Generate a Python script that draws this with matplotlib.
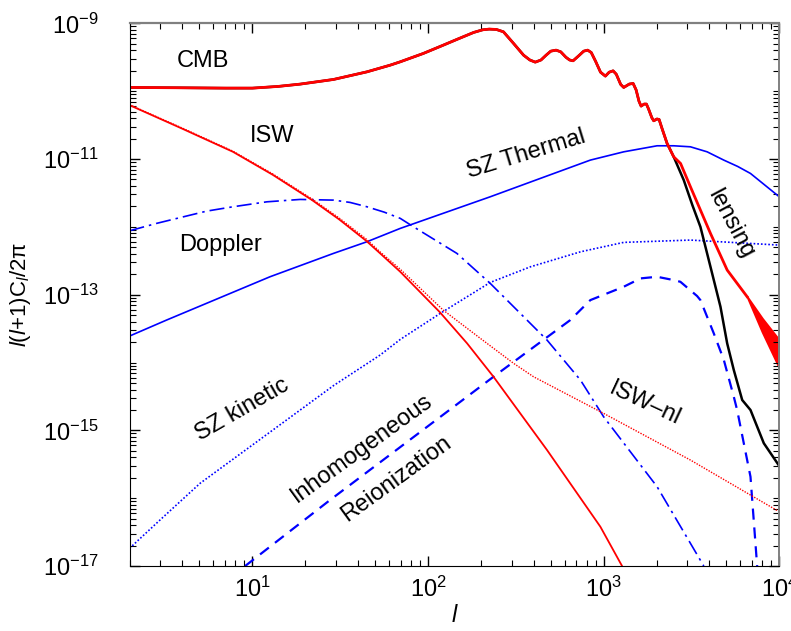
import numpy as np
import matplotlib
matplotlib.use('Agg')
import matplotlib.pyplot as plt
from matplotlib.ticker import FixedLocator, LogLocator, NullFormatter

plt.rcParams['font.family'] = ['Liberation Sans', 'DejaVu Sans']
plt.rcParams['mathtext.fontset'] = 'custom'
plt.rcParams['mathtext.rm'] = 'Liberation Sans'
plt.rcParams['mathtext.it'] = 'Liberation Sans:italic'
plt.rcParams['mathtext.sf'] = 'Liberation Sans'

# Werte (log10 von l(l+1)C_l/2pi)
cmb_l = [2, 4, 7, 10, 14, 18.7, 29, 44.9, 61, 69.5, 94, 120, 146, 182, 205, 223, 245, 269,
         307, 350, 380, 408, 440, 470, 500, 536, 570, 610, 640, 670, 720, 770, 811, 850,
         900, 960, 1023, 1075, 1132, 1180, 1250, 1301, 1400, 1472, 1530, 1590, 1634, 1700,
         1752, 1800, 1880, 1928, 2010, 2069, 2150, 2297, 2506]
cmb_v = [-9.945, -9.95, -9.955, -9.955, -9.93, -9.896, -9.827, -9.715, -9.616, -9.567,
         -9.444, -9.33, -9.237, -9.134, -9.095, -9.085, -9.09, -9.125, -9.296, -9.469,
         -9.54, -9.572, -9.54, -9.47, -9.41, -9.395, -9.42, -9.50, -9.54, -9.552, -9.48,
         -9.41, -9.395, -9.43, -9.56, -9.72, -9.778, -9.72, -9.70, -9.75, -9.90, -9.945,
         -9.895, -9.886, -9.98, -10.15, -10.22, -10.19, -10.19, -10.26, -10.39, -10.437,
         -10.41, -10.417, -10.55, -10.77, -10.968]

unlensed_l = [2858, 3200, 3556, 4057, 4625, 5050, 5508, 6150, 6855, 8163, 10000]
unlensed_v = [-11.311, -11.68, -12.0, -12.589, -13.178, -13.718, -14.111, -14.553, -14.70,
              -15.19, -15.526]

lensed_l = [2742, 3119, 4057, 5050, 6565]
lensed_v = [-11.066, -11.409, -12.097, -12.637, -13.031]
fan_l = [6565, 8000, 10000]
fan_hi = [-13.031, -13.35, -13.67]
fan_lo = [-13.031, -13.55, -14.08]

isw_l = [2, 3.96, 7.76, 13.07, 21.9, 31.2, 44.5, 53.4, 69.5, 117, 167, 236, 476, 958,
         1273, 1400]
isw_v = [-10.206, -10.549, -10.894, -11.233, -11.606, -11.89, -12.206, -12.391, -12.662,
         -13.26, -13.718, -14.21, -15.29, -16.421, -17.0, -17.25]

iswnl_l = [2, 3.96, 7.76, 13.07, 21.9, 31.2, 44.5, 53.4, 69.5, 122, 198.6, 307, 399, 1000,
           3119, 6855, 10000]
iswnl_v = [-10.20, -10.54, -10.885, -11.22, -11.59, -11.87, -12.18, -12.37, -12.625, -13.227,
           -13.644, -14.012, -14.21, -14.75, -15.438, -15.954, -16.20]

szth_l = [2, 3.25, 12.6, 29, 44.9, 69.5, 226, 436, 840, 1301, 2015, 2506, 3119, 3883,
          4830, 5800, 6855, 10000]
szth_v = [-13.61, -13.374, -12.736, -12.391, -12.22, -12.023, -11.557, -11.286, -11.016,
          -10.894, -10.805, -10.805, -10.82, -10.894, -11.016, -11.11, -11.213, -11.557]

dopp_l = [2, 2.85, 4.05, 5.5, 7.76, 12.1, 18.7, 29, 36, 44.9, 56.3, 69.5, 82.8, 146, 226,
          366, 476, 738, 1000, 2015, 3716]
dopp_v = [-12.058, -11.949, -11.852, -11.768, -11.704, -11.631, -11.596, -11.606, -11.64,
          -11.704, -11.783, -11.875, -12.0, -12.391, -12.833, -13.374, -13.669, -14.259,
          -14.8, -15.831, -17.0]

szkin_l = [2, 2.98, 5.04, 9.7, 29, 53.4, 69.5, 117.4, 226, 383, 738, 1301, 3119, 10000]
szkin_v = [-16.739, -16.322, -15.781, -15.242, -14.34, -13.89, -13.66, -13.276, -12.82,
           -12.589, -12.368, -12.229, -12.195, -12.269]

reion_l = [9.1, 27.7, 236, 646, 840, 1301, 1622, 2015, 2506, 2735, 3404, 3556, 4236, 4830,
           5508, 5754, 6855, 7480]
reion_v = [-17.0, -16.027, -14.21, -13.374, -13.08, -12.883, -12.76, -12.736, -12.785,
           -12.81, -13.02, -13.08, -13.57, -13.96, -14.505, -14.70, -15.684, -17.0]


def p(v):
    return 10.0 ** np.array(v)


fig = plt.figure(figsize=(7.91, 6.31), dpi=100)
ax = fig.add_axes([0.1638, 0.103, 0.8214, 0.860])

blue = '#0000ff'
red = '#ff0000'

ax.plot(szth_l, p(szth_v), color=blue, lw=1.2)
ax.plot(dopp_l, p(dopp_v), color=blue, lw=1.2, ls=(0, (9, 3, 1.5, 3)))
ax.plot(szkin_l, p(szkin_v), color=blue, lw=1.2, ls=(0, (1, 1.2)))
ax.plot(reion_l, p(reion_v), color=blue, lw=1.6, ls=(0, (5, 3.5)))

ax.plot(iswnl_l, p(iswnl_v), color=red, lw=1.0, ls=(0, (1, 1)))
ax.plot(isw_l, p(isw_v), color=red, lw=1.3)

ax.plot(cmb_l + unlensed_l, p(cmb_v + unlensed_v), color='black', lw=1.8)
ax.plot(cmb_l + lensed_l, p(cmb_v + lensed_v), color=red, lw=2.0)
ax.fill_between(fan_l, p(fan_lo), p(fan_hi), color=red, lw=1.5, edgecolor=red)

ax.set_xscale('log')
ax.set_yscale('log')
ax.set_xlim(2, 1e4)
ax.set_ylim(1e-17, 1e-9)

ax.yaxis.set_major_locator(FixedLocator([1e-17, 1e-15, 1e-13, 1e-11, 1e-9]))
ax.yaxis.set_minor_locator(LogLocator(base=10, subs=np.arange(1, 10), numticks=30))
ax.yaxis.set_minor_formatter(NullFormatter())
ax.xaxis.set_minor_locator(LogLocator(base=10, subs=np.arange(2, 10), numticks=30))
ax.xaxis.set_minor_formatter(NullFormatter())

ax.tick_params(which='both', direction='in', top=True, right=True, labelsize=17)
ax.tick_params(which='major', length=7, width=1)
ax.tick_params(which='minor', length=4, width=0.8)
ax.tick_params(axis='x', pad=8)
ax.tick_params(axis='y', pad=22)
ax.spines['top'].set_color('#808080')
ax.spines['right'].set_color('#808080')
ax.spines['top'].set_linewidth(1.6)
ax.spines['right'].set_linewidth(1.4)

ax.set_xlabel('$l$', fontsize=17, labelpad=2)
ax.set_ylabel(r'$l(l{+}1)\mathrm{C}_l/2\mathrm{\pi}$', fontsize=16)
ax.yaxis.set_label_coords(-0.148, 0.5)

fs = 17
ax.text(203 / 791, 1 - 61 / 631, 'CMB', transform=fig.transFigure, fontsize=fs,
        ha='center', va='center')
ax.text(272 / 791, 1 - 136 / 631, 'ISW', transform=fig.transFigure, fontsize=fs,
        ha='center', va='center')
ax.text(220 / 791, 1 - 245 / 631, 'Doppler', transform=fig.transFigure, fontsize=fs,
        ha='center', va='center')
ax.text(526 / 791, 1 - 154 / 631, 'SZ Thermal', transform=fig.transFigure, fontsize=fs,
        ha='center', va='center', rotation=17)
ax.text(731 / 791, 1 - 224 / 631, 'lensing', transform=fig.transFigure, fontsize=fs,
        ha='center', va='center', rotation=-62)
ax.text(242 / 791, 1 - 410 / 631, 'SZ kinetic', transform=fig.transFigure, fontsize=fs,
        ha='center', va='center', rotation=30)
ax.text(362 / 791, 1 - 448 / 631, 'Inhomogeneous', transform=fig.transFigure, fontsize=fs,
        ha='center', va='center', rotation=36)
ax.text(396 / 791, 1 - 479 / 631, 'Reionization', transform=fig.transFigure, fontsize=fs,
        ha='center', va='center', rotation=36)
ax.text(645 / 791, 1 - 404 / 631, 'ISW\u2013nl', transform=fig.transFigure, fontsize=fs,
        ha='center', va='center', rotation=-25)

fig.savefig('out.png', dpi=100)
